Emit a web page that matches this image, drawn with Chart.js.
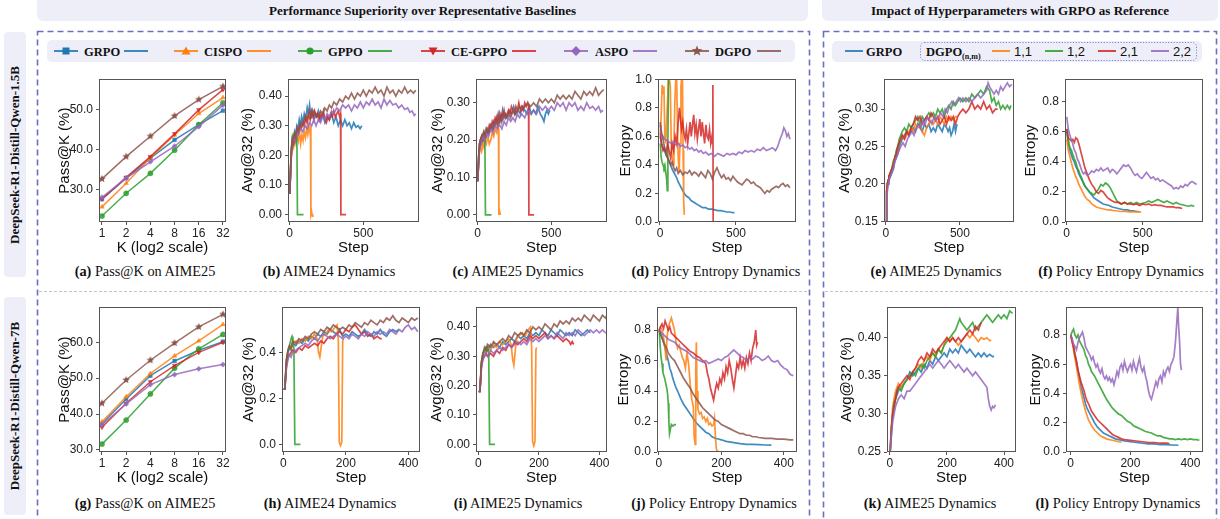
<!DOCTYPE html>
<html><head><meta charset="utf-8">
<script src="https://cdn.jsdelivr.net/npm/chart.js@4.4.1/dist/chart.umd.min.js"></script>
<style>
body{margin:0;width:1220px;height:519px;overflow:hidden;background:#fff;position:relative;font-family:"Liberation Serif","Times New Roman",serif;color:#111;}
.box{position:absolute;background:#eeeef8;}
.hdr{top:0;height:21px;line-height:21px;text-align:center;font-weight:bold;font-size:13px;border-radius:0 0 6px 6px;}
.rowlab{left:4px;width:22px;border-radius:4px;}
.rowlab span{position:absolute;left:50%;top:50%;transform:translate(-50%,-50%) rotate(-90deg);white-space:nowrap;font-weight:bold;font-size:13px;}
.cap{position:absolute;white-space:nowrap;font-size:14.3px;transform:translate(-50%,-50%);}
canvas{position:absolute;}
svg{position:absolute;left:0;top:0;}
</style></head><body>
<div class="box hdr" style="left:37px;width:771px">Performance Superiority over Representative Baselines</div>
<div class="box hdr" style="left:822px;width:396px">Impact of Hyperparameters with GRPO as Reference</div>
<div class="box rowlab" style="top:32px;height:245px"><span>DeepSeek-R1-Distill-Qwen-1.5B</span></div>
<div class="box rowlab" style="top:297px;height:218px"><span>DeepSeek-R1-Distill-Qwen-7B</span></div>
<svg id="deco" width="1220" height="519"></svg>

<div class="cap" style="left:145px;top:271px"><b>(a)</b> Pass@K on AIME25</div>
<div class="cap" style="left:329px;top:271px"><b>(b)</b> AIME24 Dynamics</div>
<div class="cap" style="left:518px;top:271px"><b>(c)</b> AIME25 Dynamics</div>
<div class="cap" style="left:716px;top:271px"><b>(d)</b> Policy Entropy Dynamics</div>
<div class="cap" style="left:936px;top:271px"><b>(e)</b> AIME25 Dynamics</div>
<div class="cap" style="left:1121px;top:271px"><b>(f)</b> Policy Entropy Dynamics</div>
<div class="cap" style="left:145px;top:503px"><b>(g)</b> Pass@K on AIME25</div>
<div class="cap" style="left:330px;top:503px"><b>(h)</b> AIME24 Dynamics</div>
<div class="cap" style="left:518px;top:503px"><b>(i)</b> AIME25 Dynamics</div>
<div class="cap" style="left:714px;top:503px"><b>(j)</b> Policy Entropy Dynamics</div>
<div class="cap" style="left:930px;top:503px"><b>(k)</b> AIME25 Dynamics</div>
<div class="cap" style="left:1118px;top:503px"><b>(l)</b> Policy Entropy Dynamics</div>

<script>
// ---- Pass@K (a: 1.5B, g: 7B) ----
const K = [1, 2, 4, 8, 16, 32];
const a_grpo = [27.5, 32.8, 37.8, 42.4, 46.2, 49.7];
const a_cispo = [25.6, 31.5, 37.9, 43.6, 49.0, 53.0];
const a_gppo = [23.3, 29.0, 34.0, 39.8, 46.2, 51.7];
const a_ce = [27.6, 33.0, 38.2, 43.9, 49.9, 55.0];
const a_aspo = [28.0, 32.8, 36.9, 40.8, 45.7, 51.1];
const a_dgpo = [32.6, 38.2, 43.3, 48.4, 52.5, 55.8];

const g_grpo = [37.3, 44.2, 50.7, 54.8, 57.8, 60.2];
const g_cispo = [37.8, 44.8, 51.3, 56.2, 60.4, 65.0];
const g_gppo = [31.6, 38.3, 45.6, 52.8, 58.2, 62.2];
const g_ce = [36.3, 43.0, 49.0, 53.5, 57.2, 60.0];
const g_aspo = [37.0, 42.8, 48.2, 51.0, 52.6, 53.8];
const g_dgpo = [43.0, 49.5, 55.0, 59.8, 64.3, 67.8];

// ---- (b) AIME24 dynamics, 1.5B ----
const b_grpo = [[2,.07],[8,.15],[14,.23],[20,.26],[28,.25],[35,.28],[42,.27],[50,.30],[58,.29],[66,.32],[74,.30],[82,.33],[90,.31],[100,.34],[110,.32],[120,.36],[128,.34],[136,.37],[145,.33],[155,.35],[165,.32],[175,.34],[185,.33],[195,.35],[210,.32],[225,.34],[240,.31],[255,.33],[270,.32],[285,.34],[300,.31],[315,.33],[330,.30],[345,.32],[360,.30],[375,.32],[390,.30],[405,.31],[420,.29],[435,.31],[450,.295],[465,.30],[478,.29],[490,.30]];
const b_cispo = [[2,.08],[8,.16],[14,.22],[20,.25],[28,.23],[36,.26],[44,.24],[52,.27],[60,.25],[68,.28],[76,.24],[84,.27],[92,.25],[100,.28],[108,.26],[116,.29],[124,.27],[132,.30],[138,.28],[142,.30],[145,.0],[150,.01],[155,-.005],[158,.0]];
const b_gppo = [[2,.08],[8,.17],[14,.23],[20,.26],[28,.24],[36,.27],[44,.25],[50,.27],[54,.0],[70,.0],[95,.0]];
const b_ce = [[2,.07],[8,.15],[14,.22],[20,.25],[28,.24],[36,.27],[44,.26],[52,.29],[60,.28],[70,.30],[80,.29],[90,.31],[100,.30],[110,.33],[120,.31],[130,.34],[140,.32],[150,.35],[160,.33],[170,.35],[180,.33],[190,.34],[200,.32],[210,.34],[220,.33],[230,.35],[240,.32],[250,.31],[260,.33],[270,.32],[280,.34],[290,.33],[300,.35],[310,.33],[320,.34],[330,.35],[340,.33],[346,.34],[348,.0],[365,.0],[383,.0]];
const b_aspo = [[2,.07],[10,.18],[20,.24],[30,.26],[40,.25],[50,.28],[60,.27],[75,.29],[90,.28],[105,.30],[120,.29],[135,.31],[150,.30],[165,.32],[180,.30],[195,.32],[210,.31],[225,.33],[240,.32],[255,.34],[270,.33],[285,.35],[300,.34],[320,.36],[340,.35],[360,.37],[380,.36],[400,.37],[420,.35],[440,.37],[460,.36],[480,.38],[500,.36],[520,.38],[540,.37],[560,.39],[580,.37],[600,.38],[620,.36],[640,.39],[660,.37],[680,.385],[700,.37],[720,.375],[740,.36],[760,.37],[780,.355],[800,.36],[815,.345],[830,.35],[845,.335],[855,.34]];
const b_dgpo = [[2,.07],[10,.19],[20,.25],[30,.27],[40,.26],[50,.29],[60,.28],[75,.31],[90,.30],[105,.33],[120,.32],[135,.35],[150,.33],[165,.35],[180,.34],[195,.33],[210,.35],[225,.34],[240,.36],[255,.35],[270,.37],[285,.36],[300,.38],[320,.37],[340,.39],[360,.38],[380,.40],[400,.39],[420,.41],[440,.39],[460,.41],[480,.40],[500,.42],[520,.40],[540,.42],[560,.41],[580,.43],[600,.41],[620,.42],[640,.40],[660,.43],[680,.41],[700,.42],[720,.40],[740,.42],[760,.41],[780,.43],[800,.41],[820,.42],[840,.41],[855,.42]];

// ---- (c) AIME25 dynamics, 1.5B ----
const c_grpo = [[2,.09],[8,.15],[14,.19],[20,.20],[28,.19],[36,.21],[44,.20],[52,.22],[60,.21],[70,.23],[80,.22],[90,.24],[100,.23],[110,.25],[120,.24],[130,.26],[140,.24],[150,.27],[160,.25],[170,.28],[180,.26],[190,.27],[200,.26],[215,.28],[230,.27],[245,.29],[260,.27],[275,.28],[290,.27],[305,.29],[320,.28],[335,.27],[350,.29],[365,.27],[380,.28],[395,.27],[410,.29],[425,.27],[440,.26],[450,.25],[460,.27],[470,.28],[480,.27],[490,.28]];
const c_cispo = [[2,.09],[8,.14],[14,.17],[20,.18],[28,.17],[36,.19],[44,.18],[52,.20],[60,.19],[70,.21],[80,.19],[90,.20],[100,.22],[110,.21],[120,.23],[130,.22],[138,.24],[142,.23],[145,.0],[150,.01],[155,.0],[158,.0]];
const c_gppo = [[2,.09],[8,.16],[14,.19],[20,.20],[28,.21],[36,.20],[44,.22],[50,.21],[54,.0],[70,.0],[95,.0]];
const c_ce = [[2,.09],[8,.15],[14,.19],[20,.20],[28,.21],[36,.20],[44,.22],[52,.21],[60,.23],[70,.22],[80,.24],[90,.23],[100,.25],[110,.24],[120,.26],[130,.25],[140,.27],[150,.25],[160,.27],[170,.26],[180,.28],[190,.26],[200,.27],[210,.28],[220,.27],[230,.29],[240,.28],[250,.27],[260,.29],[270,.28],[280,.30],[290,.28],[300,.29],[310,.28],[320,.30],[330,.29],[340,.30],[346,.29],[348,.0],[365,.0],[383,.0]];
const c_aspo = [[2,.09],[10,.16],[20,.19],[30,.20],[40,.21],[50,.20],[60,.22],[75,.21],[90,.23],[105,.22],[120,.24],[135,.23],[150,.24],[165,.23],[180,.25],[195,.24],[210,.26],[225,.25],[240,.26],[255,.25],[270,.27],[285,.26],[300,.27],[320,.26],[340,.28],[360,.27],[380,.28],[400,.27],[420,.29],[440,.28],[460,.29],[480,.28],[500,.29],[520,.28],[540,.30],[560,.29],[580,.30],[600,.28],[620,.30],[640,.29],[660,.30],[680,.28],[700,.29],[720,.28],[740,.30],[760,.285],[780,.29],[800,.28],[820,.29],[835,.275],[850,.28]];
const c_dgpo = [[2,.09],[10,.17],[20,.20],[30,.21],[40,.22],[50,.21],[60,.23],[75,.22],[90,.24],[105,.23],[120,.25],[135,.24],[150,.26],[165,.25],[180,.27],[195,.26],[210,.27],[225,.26],[240,.28],[255,.27],[270,.28],[285,.29],[300,.28],[320,.29],[340,.30],[360,.29],[380,.30],[400,.29],[420,.31],[440,.30],[460,.31],[480,.30],[500,.31],[520,.30],[540,.32],[560,.31],[580,.32],[600,.31],[620,.32],[640,.31],[660,.33],[680,.32],[700,.31],[720,.33],[740,.32],[760,.33],[780,.32],[800,.34],[820,.32],[840,.33],[855,.335]];

// ---- (d) policy entropy, 1.5B ----
const d_grpo = [[2,.6],[10,.55],[20,.52],[30,.50],[40,.47],[50,.45],[60,.42],[70,.40],[80,.37],[90,.35],[100,.33],[110,.31],[120,.28],[130,.26],[140,.24],[150,.22],[160,.20],[175,.18],[190,.17],[205,.15],[220,.14],[235,.13],[250,.12],[265,.11],[280,.10],[300,.10],[320,.09],[340,.09],[360,.085],[380,.08],[400,.08],[420,.075],[440,.07],[460,.07],[480,.065],[490,.065]];
const d_cispo = [[2,.62],[8,.75],[14,.96],[20,.90],[26,.95],[32,.60],[38,.55],[44,.70],[50,.85],[56,1.0],[62,1.0],[68,.95],[74,.55],[80,.45],[86,.40],[92,.55],[98,.85],[104,1.0],[110,1.0],[116,.60],[120,.45],[126,.35],[132,.55],[138,.95],[142,1.0],[148,1.0],[152,.50],[156,.15],[160,.05]];
const d_gppo = [[2,.55],[8,.45],[14,.42],[20,.40],[26,.38],[32,.40],[38,.35],[44,.30],[48,.22],[52,.55],[56,1.0],[60,1.0]];
const d_ce = [[2,.62],[10,.55],[20,.50],[30,.52],[40,.48],[50,.55],[60,.50],[70,.45],[80,.55],[90,.50],[100,.60],[110,.55],[120,.70],[128,.80],[135,.72],[142,.65],[150,.70],[158,.62],[166,.58],[174,.65],[182,.55],[190,.62],[198,.70],[206,.60],[214,.68],[222,.75],[230,.62],[238,.68],[246,.58],[254,.65],[262,.72],[270,.60],[278,.70],[286,.62],[294,.55],[302,.68],[310,.60],[318,.58],[326,.65],[334,.55],[342,.60],[346,.55],[348,.96],[350,.0],[370,.0],[390,.0]];
const d_aspo = [[2,.68],[10,.62],[20,.60],[30,.58],[45,.57],[60,.56],[75,.55],[90,.56],[105,.54],[120,.55],[135,.53],[150,.54],[165,.52],[180,.53],[195,.51],[210,.52],[225,.50],[240,.51],[255,.49],[270,.50],[285,.48],[300,.49],[320,.47],[340,.48],[360,.46],[380,.48],[400,.47],[420,.46],[440,.48],[460,.47],[480,.48],[500,.47],[520,.49],[540,.48],[560,.50],[580,.49],[600,.50],[620,.49],[640,.51],[660,.50],[680,.52],[700,.50],[720,.51],[740,.52],[760,.50],[775,.53],[790,.58],[805,.62],[815,.66],[825,.64],[835,.60],[845,.62],[855,.58]];
const d_dgpo = [[2,.70],[10,.62],[20,.58],[30,.52],[40,.48],[50,.45],[60,.43],[70,.40],[80,.42],[90,.38],[100,.36],[110,.38],[120,.34],[135,.36],[150,.33],[165,.35],[180,.34],[195,.36],[210,.33],[225,.35],[240,.34],[255,.32],[270,.35],[285,.33],[300,.31],[315,.36],[330,.34],[345,.30],[360,.35],[375,.38],[390,.34],[405,.31],[420,.33],[435,.30],[450,.31],[465,.29],[480,.32],[495,.30],[510,.28],[525,.27],[540,.26],[555,.28],[570,.30],[585,.29],[600,.27],[615,.28],[630,.26],[645,.25],[660,.24],[675,.22],[690,.20],[705,.22],[720,.21],[735,.23],[750,.24],[765,.25],[780,.24],[795,.26],[810,.27],[825,.25],[840,.26],[855,.24]];

// ---- (e) AIME25, hyper-params, 1.5B ----
const e_grpo = [[1,.15],[5,.19],[10,.195],[15,.20],[20,.205],[30,.21],[40,.215],[50,.22],[60,.23],[70,.235],[80,.24],[90,.25],[100,.255],[110,.26],[125,.265],[140,.27],[155,.265],[170,.27],[185,.275],[200,.27],[215,.28],[230,.275],[245,.27],[260,.28],[275,.275],[290,.28],[305,.27],[320,.275],[335,.27],[350,.28],[365,.275],[380,.27],[395,.28],[410,.275],[420,.27],[430,.275],[440,.265],[450,.27],[460,.28],[470,.27],[480,.28]];
const e_11 = [[1,.15],[5,.20],[10,.20],[15,.205],[20,.21],[30,.215],[40,.22],[50,.23],[60,.235],[70,.24],[80,.25],[90,.255],[100,.26],[110,.265],[125,.26],[140,.265],[155,.27],[170,.275],[185,.27],[200,.28],[215,.275],[230,.28],[245,.27],[260,.265],[275,.275],[290,.28],[305,.285],[320,.28],[335,.285],[350,.28],[365,.29],[380,.285],[395,.28],[410,.29],[425,.285],[440,.29],[455,.285],[470,.29],[480,.29]];
const e_12 = [[1,.15],[5,.19],[10,.20],[15,.205],[20,.21],[30,.215],[40,.22],[50,.23],[60,.235],[70,.245],[80,.25],[90,.26],[100,.265],[110,.27],[125,.275],[140,.27],[155,.28],[170,.275],[185,.28],[200,.285],[215,.29],[230,.28],[245,.29],[260,.285],[275,.29],[290,.295],[305,.29],[320,.295],[335,.29],[350,.30],[365,.295],[380,.30],[395,.29],[410,.30],[425,.305],[440,.30],[455,.31],[470,.305],[485,.31],[500,.315],[520,.31],[540,.315],[560,.31],[580,.32],[600,.315],[620,.32],[640,.325],[660,.32],[680,.33],[700,.325],[715,.31],[730,.315],[745,.305],[760,.31],[775,.30],[790,.305],[805,.30],[820,.305],[835,.30],[845,.305]];
const e_21 = [[1,.15],[5,.19],[10,.20],[15,.205],[20,.21],[30,.215],[40,.22],[50,.225],[60,.235],[70,.24],[80,.25],[90,.255],[100,.26],[110,.265],[125,.26],[140,.27],[155,.265],[170,.275],[185,.28],[200,.29],[215,.285],[230,.29],[245,.28],[260,.285],[275,.29],[290,.285],[305,.295],[320,.29],[335,.285],[350,.29],[365,.28],[380,.285],[395,.29],[410,.28],[425,.29],[440,.285],[455,.29],[470,.28],[485,.29],[500,.295],[520,.30],[540,.295],[560,.30],[580,.31],[600,.30],[620,.305],[640,.30],[660,.31],[680,.30],[700,.305],[720,.295],[740,.30],[755,.30]];
const e_22 = [[1,.15],[5,.18],[10,.19],[15,.20],[20,.205],[30,.21],[40,.215],[50,.22],[60,.23],[70,.235],[80,.24],[90,.245],[100,.25],[115,.255],[130,.25],[145,.26],[160,.265],[175,.27],[190,.265],[205,.275],[220,.28],[235,.275],[250,.285],[265,.28],[280,.29],[295,.285],[310,.28],[325,.29],[340,.285],[355,.29],[370,.295],[385,.29],[400,.30],[415,.295],[430,.305],[445,.31],[460,.305],[475,.31],[490,.315],[505,.31],[520,.315],[540,.31],[560,.315],[580,.31],[600,.315],[620,.32],[640,.315],[660,.32],[680,.325],[690,.335],[700,.33],[715,.325],[730,.32],[745,.325],[760,.32],[775,.33],[790,.325],[805,.33],[820,.335],[835,.33],[850,.333]];

// ---- (f) entropy, hyper-params, 1.5B ----
const f_grpo = [[1,.60],[10,.52],[20,.48],[30,.45],[40,.42],[50,.40],[60,.37],[70,.35],[80,.32],[90,.30],[100,.28],[110,.26],[120,.24],[135,.22],[150,.20],[165,.18],[180,.16],[195,.15],[210,.14],[225,.13],[240,.12],[260,.115],[280,.11],[300,.10],[320,.095],[340,.09],[360,.085],[380,.08],[400,.08],[420,.075],[440,.075],[460,.07],[475,.07]];
const f_11 = [[1,.55],[10,.48],[20,.44],[30,.40],[40,.36],[50,.33],[60,.30],[70,.28],[80,.25],[90,.23],[100,.21],[110,.19],[120,.17],[135,.15],[150,.14],[165,.12],[180,.11],[195,.10],[210,.095],[230,.09],[250,.085],[270,.08],[290,.08],[310,.075],[330,.075],[350,.07],[370,.07],[390,.07],[410,.068],[430,.068],[450,.067],[470,.067],[490,.066]];
const f_12 = [[1,.62],[10,.55],[20,.50],[30,.48],[40,.45],[50,.42],[60,.40],[70,.36],[80,.34],[90,.31],[100,.29],[110,.26],[120,.24],[135,.22],[150,.20],[165,.19],[180,.18],[195,.20],[210,.22],[225,.25],[240,.24],[255,.26],[270,.25],[285,.23],[300,.20],[315,.17],[330,.14],[345,.13],[360,.12],[380,.13],[400,.12],[420,.13],[440,.12],[460,.13],[480,.12],[500,.125],[520,.13],[540,.14],[560,.13],[580,.14],[600,.15],[620,.14],[640,.13],[660,.14],[680,.13],[700,.12],[720,.13],[740,.12],[760,.115],[780,.11],[800,.105],[820,.11],[840,.105]];
const f_21 = [[1,.62],[10,.56],[20,.55],[30,.54],[40,.55],[50,.53],[60,.56],[70,.55],[80,.52],[90,.48],[100,.44],[110,.40],[120,.36],[135,.32],[150,.28],[165,.25],[180,.23],[195,.20],[210,.19],[225,.21],[240,.20],[255,.18],[270,.16],[285,.15],[300,.14],[320,.13],[340,.13],[360,.12],[380,.13],[400,.12],[420,.12],[440,.115],[460,.12],[480,.11],[500,.12],[520,.115],[540,.12],[560,.11],[580,.115],[600,.11],[620,.11],[640,.105],[660,.10],[680,.10],[700,.10],[720,.095],[740,.095],[760,.09]];
const f_22 = [[1,.70],[10,.62],[20,.58],[30,.55],[40,.52],[50,.48],[60,.46],[70,.42],[80,.40],[90,.37],[100,.34],[110,.32],[120,.33],[135,.31],[150,.32],[165,.34],[180,.33],[195,.35],[210,.34],[225,.36],[240,.34],[255,.35],[270,.36],[285,.33],[300,.35],[315,.34],[330,.32],[345,.34],[360,.36],[375,.38],[390,.37],[405,.38],[420,.36],[435,.33],[450,.31],[465,.32],[480,.30],[495,.29],[510,.31],[525,.33],[540,.31],[555,.29],[570,.30],[585,.28],[600,.29],[615,.27],[630,.28],[645,.27],[660,.26],[675,.25],[690,.24],[705,.22],[720,.23],[735,.22],[750,.24],[765,.23],[780,.25],[795,.24],[810,.26],[825,.27],[840,.26],[855,.25]];

// ---- (h) AIME24 dynamics, 7B ----
const h_grpo = [[1,.24],[5,.24],[10,.35],[15,.40],[20,.42],[25,.41],[30,.44],[40,.43],[50,.45],[60,.44],[70,.46],[80,.45],[90,.47],[100,.46],[110,.48],[120,.47],[130,.49],[140,.48],[150,.50],[160,.49],[170,.48],[180,.50],[190,.47],[200,.48],[210,.47],[220,.49],[230,.48],[240,.47],[250,.48],[260,.50],[270,.48],[280,.47],[290,.49],[300,.48],[310,.50],[320,.48],[330,.47],[340,.49],[350,.50],[360,.49],[370,.50]];
const h_cispo = [[1,.24],[5,.24],[10,.36],[15,.41],[20,.43],[25,.42],[30,.44],[40,.45],[50,.44],[60,.46],[70,.45],[80,.47],[90,.46],[100,.48],[108,.46],[113,.40],[117,.38],[121,.42],[126,.47],[135,.48],[145,.50],[155,.49],[165,.51],[172,.52],[176,.45],[179,.01],[183,-.005],[187,.01],[190,.45],[192,.46]];
const h_gppo = [[1,.24],[5,.24],[10,.36],[15,.40],[20,.43],[25,.46],[28,.47],[31,.45],[34,.42],[37,.0],[45,.0],[55,.0]];
const h_ce = [[1,.24],[5,.24],[10,.34],[15,.38],[20,.39],[25,.40],[30,.41],[40,.40],[50,.42],[60,.41],[70,.43],[80,.42],[90,.43],[100,.44],[110,.43],[120,.45],[130,.44],[140,.46],[150,.47],[160,.46],[170,.48],[180,.49],[190,.48],[200,.50],[210,.49],[220,.51],[230,.52],[240,.50],[250,.48],[260,.49],[270,.47],[280,.48],[290,.46],[300,.47],[310,.46],[315,.46]];
const h_aspo = [[1,.24],[5,.24],[10,.33],[15,.37],[20,.39],[25,.38],[30,.40],[40,.41],[50,.42],[60,.43],[70,.44],[80,.43],[90,.45],[100,.46],[110,.45],[120,.47],[130,.48],[140,.47],[150,.46],[160,.47],[170,.48],[180,.47],[190,.46],[200,.47],[210,.46],[220,.48],[230,.47],[240,.46],[250,.48],[260,.47],[270,.49],[280,.48],[290,.47],[300,.49],[310,.48],[320,.49],[330,.48],[340,.50],[350,.49],[360,.48],[370,.50],[380,.49],[390,.51],[400,.52],[410,.50],[420,.51],[430,.49]];
const h_dgpo = [[1,.24],[5,.24],[10,.37],[15,.41],[20,.43],[25,.42],[30,.45],[40,.44],[50,.46],[60,.45],[70,.47],[80,.46],[90,.48],[100,.49],[110,.48],[120,.50],[130,.49],[140,.51],[150,.50],[160,.52],[170,.51],[180,.50],[190,.51],[200,.50],[210,.52],[220,.51],[230,.53],[240,.52],[250,.51],[260,.53],[270,.52],[280,.54],[290,.53],[300,.52],[310,.54],[320,.53],[330,.55],[340,.54],[350,.56],[360,.54],[370,.53],[380,.55],[390,.54],[400,.53],[410,.55],[420,.54],[430,.55]];

// ---- (i) AIME25 dynamics, 7B ----
const i_grpo = [[1,.18],[5,.18],[10,.27],[15,.30],[20,.32],[25,.33],[30,.32],[40,.34],[50,.33],[60,.34],[70,.33],[80,.35],[90,.34],[100,.35],[110,.36],[120,.35],[130,.37],[140,.36],[150,.37],[160,.36],[170,.38],[180,.37],[190,.38],[200,.37],[210,.39],[220,.38],[230,.37],[240,.39],[250,.38],[260,.37],[270,.39],[280,.38],[290,.37],[300,.38],[310,.37],[320,.39],[330,.38],[340,.37],[350,.38],[360,.39],[370,.38]];
const i_cispo = [[1,.18],[5,.18],[10,.28],[15,.31],[20,.32],[25,.31],[30,.33],[40,.32],[50,.34],[60,.33],[70,.35],[80,.34],[90,.35],[100,.36],[108,.34],[113,.29],[117,.27],[121,.31],[126,.36],[135,.37],[145,.38],[155,.37],[165,.39],[172,.40],[176,.33],[179,.01],[183,-.005],[187,.01],[190,.32],[192,.33]];
const i_gppo = [[1,.18],[5,.18],[10,.28],[15,.31],[20,.32],[25,.33],[28,.32],[31,.33],[34,.31],[37,.0],[45,.0],[55,.0]];
const i_ce = [[1,.18],[5,.18],[10,.27],[15,.29],[20,.30],[25,.31],[30,.30],[40,.31],[50,.30],[60,.32],[70,.31],[80,.33],[90,.32],[100,.34],[110,.33],[120,.35],[130,.34],[140,.35],[150,.36],[160,.35],[170,.37],[180,.36],[190,.37],[200,.36],[210,.37],[220,.38],[230,.36],[240,.37],[250,.36],[260,.37],[270,.36],[280,.35],[290,.36],[300,.35],[305,.34],[310,.35],[315,.34]];
const i_aspo = [[1,.18],[5,.18],[10,.26],[15,.29],[20,.30],[25,.31],[30,.30],[40,.32],[50,.31],[60,.32],[70,.33],[80,.32],[90,.33],[100,.34],[110,.33],[120,.34],[130,.35],[140,.34],[150,.35],[160,.34],[170,.36],[180,.35],[190,.36],[200,.35],[210,.36],[220,.37],[230,.36],[240,.37],[250,.36],[260,.38],[270,.37],[280,.36],[290,.38],[300,.37],[310,.38],[320,.37],[330,.39],[340,.38],[350,.37],[360,.38],[370,.39],[380,.38],[390,.39],[400,.38],[410,.39],[420,.38],[430,.38]];
const i_dgpo = [[1,.18],[5,.18],[10,.28],[15,.31],[20,.33],[25,.32],[30,.34],[40,.33],[50,.35],[60,.34],[70,.35],[80,.36],[90,.35],[100,.37],[110,.36],[120,.38],[130,.37],[140,.38],[150,.37],[160,.39],[170,.38],[180,.40],[190,.39],[200,.40],[210,.39],[220,.41],[230,.40],[240,.39],[250,.41],[260,.40],[270,.42],[280,.41],[290,.42],[300,.41],[310,.43],[320,.42],[330,.43],[340,.42],[350,.44],[360,.43],[370,.42],[380,.44],[390,.43],[400,.42],[410,.44],[420,.43],[430,.45]];

// ---- (j) policy entropy, 7B ----
const j_grpo = [[1,.80],[5,.78],[10,.75],[15,.72],[20,.68],[25,.64],[30,.60],[35,.55],[40,.52],[45,.48],[50,.45],[55,.42],[60,.40],[70,.35],[80,.31],[90,.28],[100,.25],[110,.22],[120,.19],[130,.17],[140,.15],[150,.13],[160,.12],[170,.10],[180,.09],[190,.085],[200,.08],[215,.07],[230,.065],[245,.06],[260,.055],[280,.05],[300,.05],[320,.048],[340,.046],[360,.045]];
const j_cispo = [[1,.80],[5,.82],[10,.80],[15,.75],[20,.68],[23,.60],[26,.75],[30,.82],[35,.85],[40,.88],[45,.84],[50,.80],[55,.72],[60,.68],[65,.70],[70,.66],[75,.62],[80,.60],[85,.55],[90,.65],[95,.58],[100,.45],[105,.35],[110,.30],[113,.10],[116,.05],[118,.55],[120,.72],[122,.40],[125,.28],[130,.25],[135,.26],[140,.22],[145,.23],[150,.20],[155,.22],[160,.18],[165,.19],[170,.17],[175,.18],[178,.22],[181,.10],[184,.02],[187,.0],[190,.01]];
const j_gppo = [[1,.80],[4,.70],[7,.62],[10,.58],[13,.52],[16,.50],[19,.48],[22,.45],[25,.42],[28,.38],[30,.32],[32,.20],[34,.12],[37,.15],[40,.18],[45,.17],[50,.18],[55,.18]];
const j_ce = [[1,.80],[5,.82],[10,.84],[15,.81],[20,.86],[25,.83],[30,.80],[35,.82],[40,.78],[50,.76],[60,.74],[70,.72],[80,.70],[90,.68],[100,.66],[110,.65],[120,.63],[130,.62],[140,.60],[150,.58],[155,.52],[160,.48],[165,.42],[170,.38],[175,.34],[180,.40],[185,.45],[190,.42],[195,.48],[200,.45],[205,.52],[210,.48],[215,.56],[220,.52],[225,.60],[230,.55],[235,.48],[240,.42],[245,.50],[250,.58],[255,.55],[260,.62],[265,.56],[270,.60],[275,.55],[280,.62],[285,.58],[290,.65],[295,.60],[300,.68],[305,.72],[310,.80],[313,.70],[316,.72]];
const j_aspo = [[1,.80],[5,.79],[10,.78],[20,.76],[30,.74],[40,.73],[50,.72],[60,.70],[70,.68],[80,.67],[90,.66],[100,.64],[110,.62],[120,.61],[130,.60],[140,.59],[150,.60],[160,.58],[170,.59],[180,.60],[190,.61],[200,.60],[210,.62],[220,.63],[230,.65],[240,.67],[250,.65],[260,.63],[270,.62],[280,.60],[290,.62],[300,.61],[310,.63],[320,.62],[330,.60],[340,.61],[350,.63],[360,.60],[370,.59],[380,.60],[390,.57],[400,.55],[410,.54],[420,.51],[430,.50]];
const j_dgpo = [[1,.80],[5,.77],[10,.75],[15,.72],[20,.70],[25,.68],[30,.65],[40,.62],[50,.60],[60,.56],[70,.52],[80,.48],[90,.45],[100,.42],[110,.38],[120,.35],[130,.32],[140,.29],[150,.27],[160,.25],[170,.23],[180,.21],[190,.20],[200,.18],[210,.17],[220,.16],[230,.15],[240,.14],[250,.13],[260,.12],[270,.12],[280,.11],[290,.11],[300,.10],[310,.10],[320,.095],[340,.09],[360,.09],[380,.085],[400,.085],[420,.08],[430,.08]];

// ---- (k) AIME25, hyper-params, 7B ----
const k_grpo = [[1,.25],[5,.27],[10,.30],[15,.31],[20,.32],[25,.325],[30,.33],[40,.335],[50,.34],[60,.345],[70,.355],[80,.35],[90,.355],[100,.36],[110,.355],[120,.365],[130,.36],[140,.37],[150,.365],[160,.375],[170,.37],[180,.375],[190,.38],[200,.375],[210,.385],[220,.38],[230,.385],[240,.38],[250,.39],[260,.385],[270,.38],[280,.385],[290,.38],[300,.375],[310,.38],[320,.375],[330,.38],[340,.375],[350,.378],[360,.375],[365,.376]];
const k_11 = [[1,.25],[5,.28],[10,.31],[15,.32],[20,.33],[25,.335],[30,.34],[40,.335],[50,.34],[60,.345],[70,.35],[80,.355],[90,.36],[100,.365],[110,.36],[120,.37],[130,.375],[140,.37],[150,.38],[160,.375],[170,.385],[180,.38],[190,.39],[200,.40],[210,.395],[220,.40],[230,.395],[240,.39],[250,.395],[260,.40],[270,.405],[280,.40],[290,.405],[300,.40],[310,.395],[320,.40],[330,.398],[340,.40],[350,.396],[355,.397]];
const k_12 = [[1,.25],[5,.28],[10,.30],[15,.315],[20,.32],[25,.33],[30,.335],[40,.33],[50,.34],[60,.345],[70,.35],[80,.355],[90,.35],[100,.36],[110,.365],[120,.36],[130,.37],[140,.375],[150,.38],[160,.375],[170,.385],[180,.38],[190,.39],[200,.395],[210,.40],[220,.405],[230,.41],[240,.42],[245,.425],[250,.42],[260,.415],[270,.41],[280,.415],[290,.42],[300,.41],[310,.415],[320,.42],[330,.425],[340,.43],[350,.425],[360,.42],[370,.425],[380,.43],[390,.425],[400,.43],[410,.425],[420,.435],[430,.432]];
const k_21 = [[1,.25],[5,.28],[10,.30],[15,.31],[20,.32],[25,.33],[30,.335],[40,.34],[50,.345],[60,.35],[70,.345],[80,.355],[90,.36],[100,.37],[110,.375],[120,.37],[130,.38],[140,.375],[150,.385],[160,.38],[170,.385],[180,.39],[190,.395],[200,.40],[210,.395],[220,.40],[230,.395],[240,.40],[250,.395],[260,.40],[270,.405],[280,.41],[290,.405],[300,.415],[310,.41],[320,.42]];
const k_22 = [[1,.25],[5,.27],[10,.29],[15,.30],[20,.31],[25,.315],[30,.32],[40,.325],[50,.32],[60,.33],[70,.33],[80,.335],[90,.34],[100,.345],[110,.35],[120,.355],[130,.36],[140,.365],[150,.36],[160,.365],[170,.37],[180,.365],[190,.36],[200,.365],[210,.37],[220,.365],[230,.36],[240,.365],[250,.36],[260,.355],[270,.36],[280,.355],[290,.35],[300,.355],[310,.35],[320,.345],[330,.34],[340,.335],[345,.32],[350,.31],[355,.305],[360,.31],[365,.308],[370,.312]];

// ---- (l) entropy, hyper-params, 7B ----
const l_grpo = [[1,.80],[5,.76],[10,.72],[15,.67],[20,.62],[25,.56],[30,.50],[35,.45],[40,.41],[45,.37],[50,.33],[55,.30],[60,.28],[70,.24],[80,.20],[90,.17],[100,.15],[110,.13],[120,.12],[130,.11],[140,.10],[150,.09],[160,.085],[170,.08],[180,.075],[200,.07],[220,.065],[240,.06],[260,.055],[280,.055],[300,.05],[320,.05],[340,.048],[360,.046]];
const l_11 = [[1,.80],[5,.76],[10,.70],[15,.64],[20,.58],[25,.52],[30,.46],[35,.41],[40,.36],[45,.32],[50,.28],[55,.25],[60,.22],[70,.18],[80,.15],[90,.13],[100,.11],[110,.10],[120,.09],[130,.085],[140,.08],[150,.075],[160,.07],[170,.068]];
const l_12 = [[1,.80],[5,.82],[10,.84],[15,.80],[20,.78],[25,.80],[30,.76],[35,.74],[40,.72],[45,.70],[50,.66],[55,.64],[60,.60],[65,.58],[70,.55],[80,.52],[90,.48],[100,.44],[110,.40],[120,.36],[130,.33],[140,.30],[150,.28],[160,.26],[170,.25],[180,.23],[190,.21],[200,.20],[210,.18],[220,.17],[230,.16],[240,.15],[250,.14],[260,.135],[270,.13],[280,.12],[290,.11],[300,.11],[310,.10],[320,.095],[330,.09],[340,.09],[350,.085],[360,.09],[370,.085],[380,.09],[390,.085],[400,.09],[410,.085],[420,.085],[430,.08]];
const l_21 = [[1,.80],[5,.76],[10,.72],[15,.66],[20,.62],[25,.56],[30,.52],[35,.48],[40,.45],[45,.42],[50,.38],[55,.35],[60,.33],[70,.28],[80,.25],[90,.22],[100,.20],[110,.18],[120,.16],[130,.14],[140,.12],[150,.11],[160,.10],[170,.09],[180,.085],[200,.08],[220,.075],[240,.07],[260,.065],[280,.065],[300,.06],[320,.06],[330,.058]];
const l_22 = [[1,.80],[5,.78],[10,.74],[15,.72],[20,.70],[25,.75],[30,.78],[35,.80],[40,.82],[45,.78],[50,.72],[55,.70],[60,.68],[65,.66],[70,.63],[75,.65],[80,.61],[85,.58],[90,.60],[95,.56],[100,.54],[105,.57],[110,.52],[115,.50],[120,.52],[125,.49],[130,.51],[135,.48],[140,.50],[145,.46],[150,.50],[155,.55],[160,.52],[165,.58],[170,.60],[175,.56],[180,.62],[185,.58],[190,.55],[195,.58],[200,.60],[205,.56],[210,.62],[215,.58],[220,.55],[225,.60],[230,.64],[235,.58],[240,.55],[245,.58],[250,.52],[255,.48],[260,.42],[265,.38],[270,.36],[275,.40],[280,.44],[285,.48],[290,.45],[295,.50],[300,.52],[305,.48],[310,.55],[315,.52],[320,.56],[325,.58],[330,.55],[335,.60],[340,.62],[345,.65],[350,.75],[355,.90],[358,.99],[361,.85],[364,.75],[367,.60],[370,.56]];

const BLUE = 'rgba(31,119,180,0.85)', ORANGE = 'rgba(255,127,14,0.85)', GREEN = 'rgba(44,160,44,0.85)',
      RED = 'rgba(214,39,40,0.85)', PURPLE = 'rgba(148,103,189,0.85)', BROWN = 'rgba(140,86,75,0.85)';
const COLS = [BLUE, ORANGE, GREEN, RED, PURPLE, BROWN];
const SANS = '"Liberation Sans", Arial, Helvetica, sans-serif';

Chart.defaults.font.family = SANS;
Chart.defaults.color = '#222';

function starImg(color, r) {
  const c = document.createElement('canvas');
  c.width = c.height = 2 * r + 2;
  const g = c.getContext('2d');
  g.fillStyle = color;
  g.beginPath();
  for (let n = 0; n < 10; n++) {
    const ang = -Math.PI / 2 + n * Math.PI / 5, rr = n % 2 ? r * 0.45 : r;
    g.lineTo(r + 1 + rr * Math.cos(ang), r + 1 + rr * Math.sin(ang));
  }
  g.closePath(); g.fill();
  return c;
}
const MARKERS = [['rect', 0], ['triangle', 0], ['circle', 0], ['triangle', 180], ['rectRot', 0], [starImg('rgb(140,86,75)', 4), 0]];

const frame = {
  id: 'frame',
  afterDraw(c) {
    const a = c.chartArea, ctx = c.ctx;
    ctx.save();
    ctx.strokeStyle = '#555'; ctx.lineWidth = 1;
    ctx.strokeRect(Math.round(a.left) + 0.5, Math.round(a.top) + 0.5, Math.round(a.right - a.left) - 1, Math.round(a.bottom - a.top) - 1);
    ctx.restore();
  }
};

function panel(p) {
  const L = p.yt - 11, T = p.t - 10, R = p.r + 12, B = p.xt + 11;
  const cv = document.createElement('canvas');
  cv.width = R - L; cv.height = B - T;
  cv.style.left = L + 'px'; cv.style.top = T + 'px';
  document.body.appendChild(cv);
  const yw = p.l - L, xh = B - p.b;
  const grid = { display: true, drawOnChartArea: false, drawTicks: true, tickLength: 3, tickColor: '#555' };
  const datasets = p.series.map((s, n) => {
    const ds = {
      borderColor: COLS[n], backgroundColor: COLS[n], borderWidth: 1.7,
      pointRadius: 0, tension: 0, fill: false, order: 10 - n
    };
    if (p.log) {
      ds.data = K.map((k, m) => ({ x: k, y: s[m] }));
      ds.borderWidth = 1.5;
      ds.pointRadius = n === 5 ? 4 : 2.6;
      ds.pointStyle = MARKERS[n][0];
      ds.rotation = MARKERS[n][1];
      ds.pointBorderWidth = 0.5;
    } else {
      ds.data = s.map(q => ({ x: q[0], y: q[1] }));
    }
    return ds;
  });
  new Chart(cv, {
    type: 'line',
    data: { datasets },
    options: {
      responsive: false, animation: false, devicePixelRatio: 1,
      layout: { padding: { top: 10, right: 12, left: 0, bottom: 0 } },
      plugins: { legend: { display: false }, tooltip: { enabled: false } },
      scales: {
        x: {
          type: p.log ? 'logarithmic' : 'linear', min: p.xmin, max: p.xmax,
          afterBuildTicks: s => { s.ticks = p.xticks.map(v => ({ value: v })); },
          afterFit: s => { s.height = xh; },
          ticks: { font: { size: 12 }, padding: 1, maxRotation: 0, autoSkip: false, color: '#222', callback: v => String(v) },
          title: { display: true, text: p.xtitle, font: { size: 15 }, color: '#111', padding: { top: 0, bottom: 2 } },
          grid, border: { display: false }
        },
        y: {
          type: 'linear', min: p.ymin, max: p.ymax,
          afterBuildTicks: s => { s.ticks = p.yticks.map(v => ({ value: v })); },
          afterFit: s => { s.width = yw; },
          ticks: { font: { size: 12 }, padding: 3, autoSkip: false, color: '#222', callback: v => Number(v).toFixed(p.yd) },
          title: { display: true, text: p.ytitle, font: { size: 15 }, color: '#111', padding: { top: 2, bottom: 0 } },
          grid, border: { display: false }
        }
      }
    },
    plugins: [frame]
  });
}

const R1 = { t: 79, b: 222, xt: 248 }, R2 = { t: 307, b: 452, xt: 478 };
const PK = { log: true, xmin: 0.918, xmax: 34.9, xticks: K, yd: 1, ytitle: 'Pass@K (%)', xtitle: 'K (log2 scale)' };
const DYN = { xtitle: 'Step' };

panel({ ...R1, ...PK, l: 99, r: 226, yt: 65, ymin: 21.8, ymax: 57.6, yticks: [30, 40, 50], series: [a_grpo, a_cispo, a_gppo, a_ce, a_aspo, a_dgpo] });
panel({ ...R1, ...DYN, l: 288, r: 419, yt: 248, xmin: -10, xmax: 877, xticks: [0, 500], ymin: -0.025, ymax: 0.457, yticks: [0, .1, .2, .3, .4], yd: 2, ytitle: 'Avg@32 (%)', series: [b_grpo, b_cispo, b_gppo, b_ce, b_aspo, b_dgpo] });
panel({ ...R1, ...DYN, l: 476, r: 607, yt: 438, xmin: -10, xmax: 877, xticks: [0, 500], ymin: -0.019, ymax: 0.363, yticks: [0, .1, .2, .3], yd: 2, ytitle: 'Avg@32 (%)', series: [c_grpo, c_cispo, c_gppo, c_ce, c_aspo, c_dgpo] });
panel({ ...R1, ...DYN, l: 658, r: 796, yt: 626, xmin: -13, xmax: 895, xticks: [0, 500], ymin: 0, ymax: 1.0, yticks: [0, .2, .4, .6, .8, 1.0], yd: 1, ytitle: 'Entropy', series: [d_grpo, d_cispo, d_gppo, d_ce, d_aspo, d_dgpo] });
panel({ ...R1, ...DYN, l: 884, r: 1014, yt: 845, xmin: -13, xmax: 865, xticks: [0, 500], ymin: 0.149, ymax: 0.34, yticks: [.15, .2, .25, .3], yd: 2, ytitle: 'Avg@32 (%)', series: [e_grpo, e_11, e_12, e_21, e_22] });
panel({ ...R1, ...DYN, l: 1065, r: 1203, yt: 1031, xmin: -11, xmax: 897, xticks: [0, 500], ymin: 0, ymax: 0.95, yticks: [0, .2, .4, .6, .8], yd: 1, ytitle: 'Entropy', series: [f_grpo, f_11, f_12, f_21, f_22] });

panel({ ...R2, ...PK, l: 99, r: 226, yt: 65, ymin: 29.4, ymax: 69.8, yticks: [30, 40, 50, 60], series: [g_grpo, g_cispo, g_gppo, g_ce, g_aspo, g_dgpo] });
panel({ ...R2, ...DYN, l: 282, r: 420, yt: 249, xmin: -4, xmax: 437, xticks: [0, 200, 400], ymin: -0.033, ymax: 0.597, yticks: [0, .2, .4], yd: 1, ytitle: 'Avg@32 (%)', series: [h_grpo, h_cispo, h_gppo, h_ce, h_aspo, h_dgpo] });
panel({ ...R2, ...DYN, l: 476, r: 607, yt: 437, xmin: -8, xmax: 425, xticks: [0, 200, 400], ymin: -0.026, ymax: 0.467, yticks: [0, .1, .2, .3, .4], yd: 2, ytitle: 'Avg@32 (%)', series: [i_grpo, i_cispo, i_gppo, i_ce, i_aspo, i_dgpo] });
panel({ ...R2, ...DYN, l: 657, r: 797, yt: 624, xmin: -6, xmax: 442, xticks: [0, 200, 400], ymin: 0, ymax: 0.95, yticks: [0, .2, .4, .6, .8], yd: 1, ytitle: 'Entropy', series: [j_grpo, j_cispo, j_gppo, j_ce, j_aspo, j_dgpo] });
panel({ ...R2, ...DYN, l: 887, r: 1016, yt: 847, xmin: -10, xmax: 442, xticks: [0, 200, 400], ymin: 0.25, ymax: 0.44, yticks: [.25, .3, .35, .4], yd: 2, ytitle: 'Avg@32 (%)', series: [k_grpo, k_11, k_12, k_21, k_22] });
panel({ ...R2, ...DYN, l: 1066, r: 1203, yt: 1036, xmin: -15, xmax: 442, xticks: [0, 200, 400], ymin: 0, ymax: 0.99, yticks: [0, .2, .4, .6, .8], yd: 1, ytitle: 'Entropy', series: [l_grpo, l_11, l_12, l_21, l_22] });

// ---- decorations: dashed boxes, separators, legends ----
const SOLID = ['rgb(31,119,180)', 'rgb(255,127,14)', 'rgb(44,160,44)', 'rgb(214,39,40)', 'rgb(148,103,189)', 'rgb(140,86,75)'];
function marker(kind, cx, cy, col) {
  if (kind === 0) return `<rect x="${cx - 3.5}" y="${cy - 3.5}" width="7" height="7" fill="${col}"/>`;
  if (kind === 1) return `<polygon points="${cx},${cy - 4.5} ${cx - 4.5},${cy + 3.5} ${cx + 4.5},${cy + 3.5}" fill="${col}"/>`;
  if (kind === 2) return `<circle cx="${cx}" cy="${cy}" r="3.6" fill="${col}"/>`;
  if (kind === 3) return `<polygon points="${cx},${cy + 4.5} ${cx - 4.5},${cy - 3.5} ${cx + 4.5},${cy - 3.5}" fill="${col}"/>`;
  if (kind === 4) return `<polygon points="${cx},${cy - 5} ${cx + 5},${cy} ${cx},${cy + 5} ${cx - 5},${cy}" fill="${col}"/>`;
  let pts = [];
  for (let n = 0; n < 10; n++) {
    const ang = -Math.PI / 2 + n * Math.PI / 5, rr = n % 2 ? 2.4 : 5.5;
    pts.push((cx + rr * Math.cos(ang)).toFixed(1) + ',' + (cy + rr * Math.sin(ang)).toFixed(1));
  }
  return `<polygon points="${pts.join(' ')}" fill="${col}"/>`;
}
const LEG_NAMES = ['GRPO', 'CISPO', 'GPPO', 'CE-GPPO', 'ASPO', 'DGPO'];
const LEG_X = [[54, 84, 124], [174, 204, 247], [298, 328, 368], [421, 451, 512], [564, 595, 633], [685, 715, 757]];
const HYP_NAMES = ['1,1', '1,2', '2,1', '2,2'];
const HYP_X = [992, 1045, 1098, 1151];

let s = '';
s += `<rect x="47" y="40" width="748" height="22" rx="5" fill="#eeeef8"/>`;
s += `<rect x="832" y="41" width="370" height="21" rx="5" fill="#eeeef8"/>`;
s += `<rect x="920.5" y="42.5" width="276" height="18" rx="4" fill="none" stroke="#7d80d6" stroke-width="1" stroke-dasharray="1.2 1.6"/>`;
const LY = 51;
LEG_NAMES.forEach((nm, n) => {
  const [x0, tx, x1] = LEG_X[n], col = SOLID[n];
  s += `<line x1="${x0}" y1="${LY}" x2="${x0 + 24}" y2="${LY}" stroke="${col}" stroke-width="2" opacity="0.85"/>`;
  s += marker(n, x0 + 12, LY, col);
  s += `<text x="${tx}" y="${LY + 4.5}" font-family="Liberation Serif, Times New Roman, serif" font-weight="bold" font-size="12.5" fill="#111">${nm}</text>`;
  s += `<line x1="${x1}" y1="${LY}" x2="${x1 + 24}" y2="${LY}" stroke="${col}" stroke-width="2" opacity="0.85"/>`;
});
s += `<line x1="845" y1="${LY}" x2="863" y2="${LY}" stroke="${SOLID[0]}" stroke-width="2" opacity="0.85"/>`;
s += `<text x="866" y="${LY + 4.5}" font-family="Liberation Serif, Times New Roman, serif" font-weight="bold" font-size="12.5" fill="#111">GRPO</text>`;
s += `<text x="926" y="${LY + 4.5}" font-family="Liberation Serif, Times New Roman, serif" font-weight="bold" font-size="12.5" fill="#111">DGPO<tspan font-size="8" dy="3">(n,m)</tspan></text>`;
HYP_NAMES.forEach((nm, n) => {
  const x0 = HYP_X[n], col = SOLID[n + 1];
  s += `<line x1="${x0}" y1="${LY}" x2="${x0 + 18}" y2="${LY}" stroke="${col}" stroke-width="2" opacity="0.85"/>`;
  s += `<text x="${x0 + 22}" y="${LY + 4.5}" font-family="${SANS.replace(/"/g, '')}" font-size="13" fill="#111">${nm}</text>`;
});
// dashed panels
s += `<rect x="37.5" y="31.5" width="772" height="520" fill="none" stroke="#6a6fc4" stroke-width="1.6" stroke-dasharray="6 4"/>`;
s += `<rect x="823.5" y="31.5" width="393" height="520" fill="none" stroke="#6a6fc4" stroke-width="1.6" stroke-dasharray="6 4"/>`;
s += `<line x1="39" y1="291.5" x2="808" y2="291.5" stroke="#c4c4c4" stroke-width="1" stroke-dasharray="3 2"/>`;
s += `<line x1="825" y1="291.5" x2="1215" y2="291.5" stroke="#c4c4c4" stroke-width="1" stroke-dasharray="3 2"/>`;
document.getElementById('deco').innerHTML = s;
</script>
</body></html>
